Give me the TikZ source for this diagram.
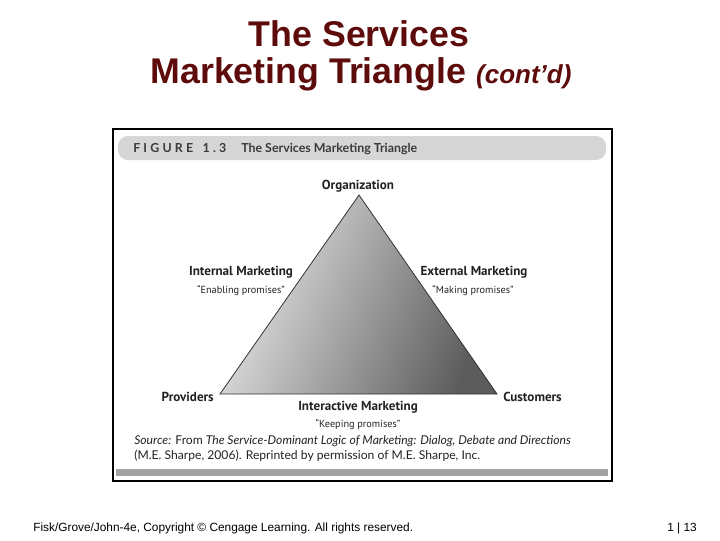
\documentclass[tikz,border=0pt]{standalone}
\usepackage{fontspec}
\setmainfont{Liberation Sans}
\newfontfamily\labfont{PT Sans}
\newfontfamily\figfont{Lato}
\definecolor{titlered}{HTML}{5E0B0B}
\definecolor{headgray}{HTML}{D6D6D6}
\definecolor{bargray}{HTML}{A3A3A3}
\definecolor{headtext}{HTML}{3A3A3A}
\definecolor{labtext}{HTML}{222222}
\definecolor{trilight}{HTML}{E8E8E8}
\definecolor{trimid}{HTML}{B4B4B4}
\definecolor{tridark}{HTML}{5C5C5C}
\begin{document}
\begin{tikzpicture}[x=0.75pt,y=-0.75pt,
  titletext/.style={text=titlered,inner sep=0pt,anchor=base},
  mainlab/.style={font=\labfont\bfseries\fontsize{9.8}{11}\selectfont,text=labtext,inner sep=0pt,anchor=base},
  sublab/.style={font=\labfont\fontsize{7.7}{9}\selectfont,text=labtext,inner sep=0pt,anchor=base},
  srctext/.style={font=\figfont\fontsize{9.1}{10}\selectfont,text=labtext,inner sep=0pt,anchor=base west},
  headlab/.style={font=\figfont\bfseries\fontsize{9.3}{10}\selectfont,text=headtext,inner sep=0pt,anchor=base west},
  foot/.style={font=\fontsize{8.9}{10}\selectfont,text=black,inner sep=0pt,anchor=base}]
\useasboundingbox (0,0) rectangle (720,540);
% title
\node[titletext,font=\bfseries\fontsize{26.8}{30}\selectfont] (t1) at (359,46) {The Services};
\node[titletext,font=\bfseries\fontsize{26.8}{30}\selectfont] (t2) at (361,83) {Marketing Triangle {\fontsize{19.5}{22}\selectfont\itshape (cont’d)}};
% figure frame
\draw[line width=1.9pt] (113,129) rectangle (612,481);
\fill[headgray,rounded corners=7.5pt] (118,136) rectangle (606,160);
\fill[bargray] (116,469) rectangle (608,476);
\node[headlab] (fig) at (133,152)
  {F\kern2.4pt I\kern2.4pt G\kern2.4pt U\kern2.4pt R\kern2.4pt E\hspace{7pt}1\kern2.4pt.\kern2.4pt3};
\node[headlab] (figt) at (241,152) {The Services Marketing Triangle};
% triangle
\coordinate (apex) at (359,195);
\coordinate (pl) at (220,394);
\coordinate (pr) at (497,394);
\shade[left color=trilight,middle color=trimid,right color=tridark,shading angle=68,draw=gray!40!black,line width=0.6pt]
  (apex) -- (pl) -- (pr) -- cycle;
% labels
\node[mainlab] (org) at (358,189) {Organization};
\node[mainlab] (im) at (241,275) {Internal Marketing};
\node[sublab] (ims) at (241,293) {“Enabling promises”};
\node[mainlab] (em) at (474,275) {External Marketing};
\node[sublab] (ems) at (473,293) {“Making promises”};
\node[mainlab,anchor=base east] (prov) at (214,401) {Providers};
\node[mainlab,anchor=base west] (cust) at (503,401) {Customers};
\node[mainlab] (inm) at (358,410) {Interactive Marketing};
\node[sublab] (inms) at (358,427) {“Keeping promises”};
\node[srctext] (src1) at (134,444) {\itshape Source:\upshape{} From \itshape The Service-Dominant Logic of Marketing: Dialog, Debate and Directions};
\node[srctext] (src2) at (134,459) {(M.E. Sharpe, 2006). Reprinted by permission of M.E. Sharpe, Inc.};
% footer
\node[foot,anchor=base west] (cr) at (33,531) {Fisk/Grove/John-4e, Copyright © Cengage Learning. All rights reserved.};
\node[foot,anchor=base east] (pg) at (697,531) {1 | 13};
\end{tikzpicture}
\end{document}
